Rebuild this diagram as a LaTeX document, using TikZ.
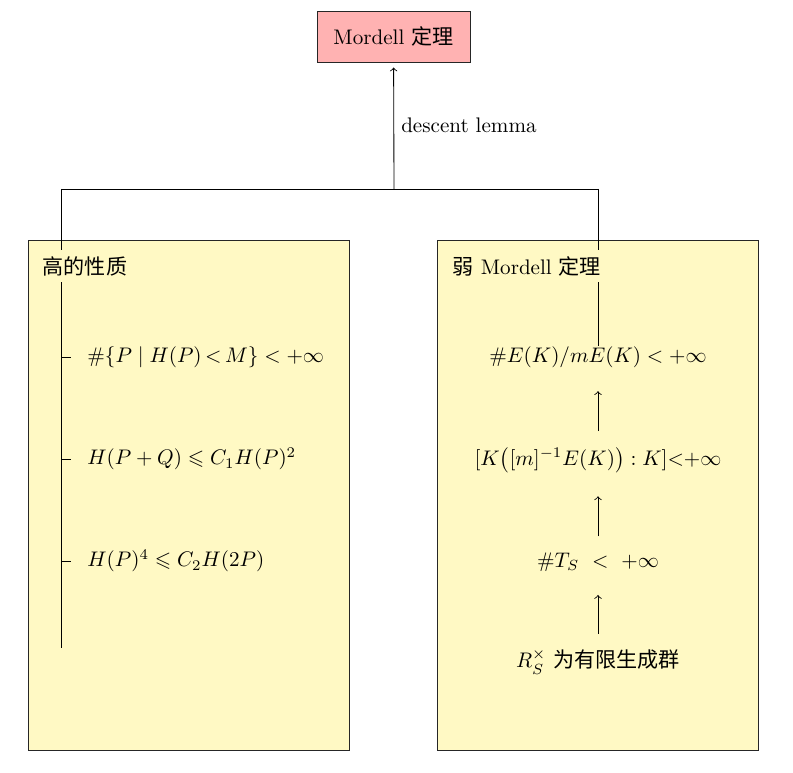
\documentclass[tikz,border=0pt]{standalone}
\usepackage{amsmath,amssymb}
\usepackage{fontspec}
\newfontfamily\cjk{Noto Sans CJK SC}
\definecolor{boxyellow}{RGB}{255,249,196}
\definecolor{boxpink}{RGB}{255,178,178}
\begin{document}
\begin{tikzpicture}[x=0.4742pt,y=-0.4742pt,
  panel/.style={draw=black!85, fill=boxyellow, minimum width=152.2pt, minimum height=241.8pt, inner sep=0pt},
  topbox/.style={draw=black!85, fill=boxpink, minimum width=72.5pt, minimum height=24.2pt, inner sep=0pt},
  paneltitle/.style={fill=boxyellow, inner sep=3pt, anchor=west},
  item/.style={inner sep=0pt, anchor=west},
  stepnode/.style={inner sep=0pt},
  uparrow/.style={->, shorten <=7.5pt, shorten >=11pt}
]
\useasboundingbox (0,0) rectangle (793,772);
% panels
\node[panel] (lbox) at (188.5,495) {};
\node[panel] (rbox) at (597.5,495) {};
% top node
\node[topbox] (mordell) at (393.5,36.5) {Mordell {\cjk 定理}};
% right column nodes
\node[stepnode] (e1) at (598,357) {$\#E(K)/mE(K) < +\infty$};
\node[stepnode] (e2) at (598,460) {$[K\bigl([m]^{-1}E(K)\bigr):K]{<}{+}\infty$};
\node[stepnode] (e3) at (598,562) {$\#T_S\ <\ +\infty$};
\node[stepnode] (e4) at (598,662) {$R_S^{\times}$ {\cjk 为有限生成群}};
% left column items
\node[item] (h1) at (87,357) {$\#\{P \mid H(P)\,{<}\,M\} < +\infty$};
\node[item] (h2) at (87,459) {$H(P+Q) \leqslant C_1H(P)^2$};
\node[item] (h3) at (87,561) {$H(P)^4 \leqslant C_2H(2P)$};
% junction coordinates
\coordinate (j) at (394,189);
\coordinate (lj) at (61,189);
\coordinate (rj) at (598,189);
\coordinate (lend) at (61,648);
\coordinate (t1) at (61,357);
\coordinate (t2) at (61,459);
\coordinate (t3) at (61,561);
% connectors
\draw (lj) -- (rj);
\draw[->, shorten >=2.4pt] (j) -- node[midway, right] {descent lemma} (mordell);
\draw (lj) -- (lend);
\draw (rj) -- (e1);
\draw (t1) -- ([xshift=-7.5pt]h1.west);
\draw (t2) -- ([xshift=-7.5pt]h2.west);
\draw (t3) -- ([xshift=-7.5pt]h3.west);
\draw[uparrow] (e2) -- (e1);
\draw[uparrow] (e3) -- (e2);
\draw[uparrow] (e4) -- (e3);
% panel titles (drawn over the lines)
\node[paneltitle] (ltitle) at (36,266) {\cjk 高的性质};
\node[paneltitle] (rtitle) at (446,266) {{\cjk 弱} Mordell {\cjk 定理}};
\end{tikzpicture}
\end{document}
